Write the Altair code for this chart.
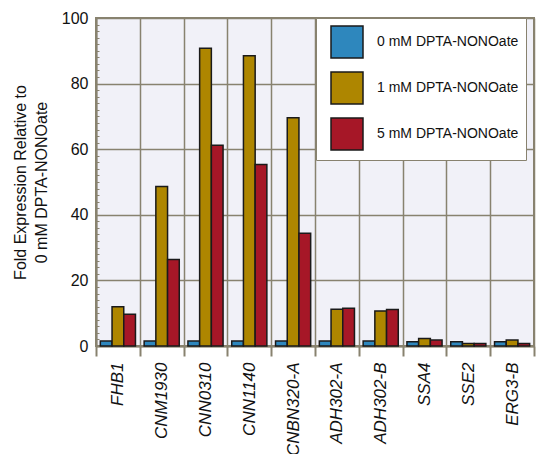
import altair as alt
import pandas as pd

genes = ["FHB1", "CNM1930", "CNN0310", "CNN1140", "CNBN320-A",
         "ADH302-A", "ADH302-B", "SSA4", "SSE2", "ERG3-B"]
doses = ["0 mM DPTA-NONOate", "1 mM DPTA-NONOate", "5 mM DPTA-NONOate"]
vals_0 = [1.5, 1.5, 1.5, 1.5, 1.5, 1.5, 1.5, 1.3, 1.3, 1.3]
vals_1 = [12.0, 48.6, 90.8, 88.5, 69.6, 11.2, 10.7, 2.3, 0.8, 1.8]
vals_5 = [9.7, 26.4, 61.2, 55.3, 34.4, 11.5, 11.1, 1.8, 0.8, 0.8]
colors = ["#2e87bd", "#ae8600", "#a61727"]
minor_ticks = [v for v in range(0, 101, 2) if v % 20 != 0]

rows = []
for d, series in zip(doses, [vals_0, vals_1, vals_5]):
    for g, v in zip(genes, series):
        rows.append({"gene": g, "dose": d, "value": v})
df = pd.DataFrame(rows)

GREY = "#88826f"
FONT = "Liberation Sans"

bars = alt.Chart(df).mark_bar(stroke="#1a1a1a", strokeWidth=1.5).encode(
    x=alt.X("gene:N", sort=genes, title=None,
            scale=alt.Scale(paddingInner=0, paddingOuter=0),
            axis=alt.Axis(tickBand="extent", grid=True, gridColor=GREY, gridWidth=1.5,
                          domainColor=GREY, domainWidth=2, tickColor=GREY, tickWidth=2,
                          tickSize=10, labelAngle=270, labelAlign="right",
                          labelBaseline="middle", labelFontStyle="italic",
                          labelFontSize=17, labelFont=FONT, labelColor="#111111",
                          labelPadding=6)),
    xOffset=alt.XOffset("dose:N", sort=doses, scale=alt.Scale(paddingOuter=0.37, paddingInner=0)),
    y=alt.Y("value:Q", scale=alt.Scale(domain=[0, 100], nice=False),
            title=["Fold Expression Relative to", "0 mM DPTA-NONOate"],
            axis=alt.Axis(values=[0, 20, 40, 60, 80, 100], grid=True, gridColor=GREY,
                          gridWidth=1.5, domainColor=GREY, domainWidth=2, ticks=False,
                          labelFontSize=16, labelFont=FONT, labelColor="#111111",
                          labelPadding=8, titleFontSize=16, titleFont=FONT,
                          titleFontWeight="normal", titleColor="#111111",
                          titleLineHeight=21, titlePadding=12)),
    color=alt.Color("dose:N", sort=doses, scale=alt.Scale(domain=doses, range=colors),
                    legend=alt.Legend(title=None, orient="none", legendX=220, legendY=0,
                                      fillColor="white", strokeColor=GREY, padding=7,
                                      symbolType="square", symbolSize=1024,
                                      symbolOffset=7, symbolStrokeColor="#1a1a1a",
                                      symbolStrokeWidth=1.5, labelOffset=13,
                                      labelFontSize=14, labelFont=FONT,
                                      labelColor="#111111", rowPadding=8,
                                      labelExpr="datum.label + '\u00a0\u00a0\u00a0\u00a0\u00a0\u00a0\u00a0\u00a0\u00a0\u00a0'")),
)

minor = alt.Chart(pd.DataFrame({"v": minor_ticks})).mark_point(opacity=0).encode(
    y=alt.Y("v:Q", scale=alt.Scale(domain=[0, 100], nice=False), title=None,
            axis=alt.Axis(orient="right", offset=-438, values=minor_ticks, labels=False,
                          domain=False, grid=False, tickSize=3, tickColor=GREY,
                          tickWidth=1)),
)

chart = alt.layer(bars, minor).resolve_scale(y="independent").properties(
    width=438, height=328,
    autosize=alt.AutoSizeParams(type="none"),
    padding={"left": 96, "top": 18, "right": 2, "bottom": 108},
).configure_view(fill="#f1f1f8", stroke=GREY, strokeWidth=2)

chart.save("out.html", embed_options={"renderer": "svg", "actions": False})
